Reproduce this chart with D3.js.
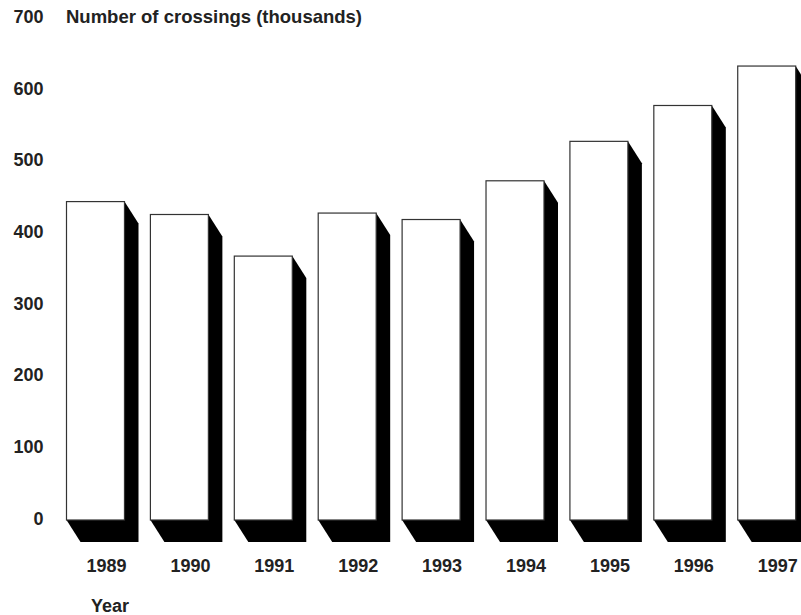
<!DOCTYPE html>
<html>
<head>
<meta charset="utf-8">
<script src="https://cdn.jsdelivr.net/npm/d3@7"></script>
<style>
  html, body { margin: 0; padding: 0; background: #fff; }
  svg { display: block; }
  text { font-family: "Liberation Sans", Arial, Helvetica, sans-serif; font-weight: bold; fill: #222; }
</style>
</head>
<body>
<script>
// Border crossings per year, in thousands
const years = ["1989", "1990", "1991", "1992", "1993", "1994", "1995", "1996", "1997"];
const crossings = [444, 426, 368, 428, 419, 473, 528, 578, 633];
const yTicks = [0, 100, 200, 300, 400, 500, 600, 700];
const yTitle = "Number of crossings (thousands)";
const xTitle = "Year";

const W = 801, H = 615;
const svg = d3.select("body").append("svg").attr("width", W).attr("height", H);

const x = d3.scaleBand().domain(years).range([66.5, 795.7]).paddingInner(0.309).paddingOuter(0);
const y = d3.scaleLinear().domain([0, 700]).range([520, 18]);

// extrusion depth of the 3D block
const dx = 14, dy = 22;

const data = years.map((yr, i) => ({ year: yr, value: crossings[i] }));

const bars = svg.append("g").selectAll("g").data(data).join("g");

// dark side/bottom faces
bars.append("path")
  .attr("d", d => {
    const x0 = x(d.year), x1 = x0 + x.bandwidth();
    const top = y(d.value), bot = y(0);
    return `M${x1},${top} L${x1 + dx},${top + dy} L${x1 + dx},${bot + dy} L${x0 + dx},${bot + dy} L${x0},${bot} Z`;
  })
  .attr("fill", "#000");

// front faces
bars.append("rect")
  .attr("x", d => x(d.year))
  .attr("y", d => y(d.value))
  .attr("width", x.bandwidth())
  .attr("height", d => y(0) - y(d.value))
  .attr("fill", "#fff")
  .attr("stroke", "#333")
  .attr("stroke-width", 1.2);

// y axis labels
const yAxis = d3.axisLeft(y).tickValues(yTicks).tickSize(0).tickPadding(0);
const yg = svg.append("g").attr("transform", "translate(43.5,-2)").call(yAxis);
yg.select(".domain").remove();
yg.selectAll("text").attr("font-size", 18).attr("font-family", null).attr("fill", "#222").attr("dy", "0.35em");

// x axis labels
const xAxis = d3.axisBottom(x).tickSize(0).tickPadding(0);
const xg = svg.append("g").attr("transform", "translate(11,559)").call(xAxis);
xg.select(".domain").remove();
xg.selectAll("text").attr("font-size", 18).attr("font-family", null).attr("fill", "#222").attr("dy", "0.71em");

svg.append("text").attr("x", 66).attr("y", 23).attr("font-size", 18.5).text(yTitle);
svg.append("text").attr("x", 91).attr("y", 612).attr("font-size", 18).text(xTitle);
</script>
</body>
</html>
